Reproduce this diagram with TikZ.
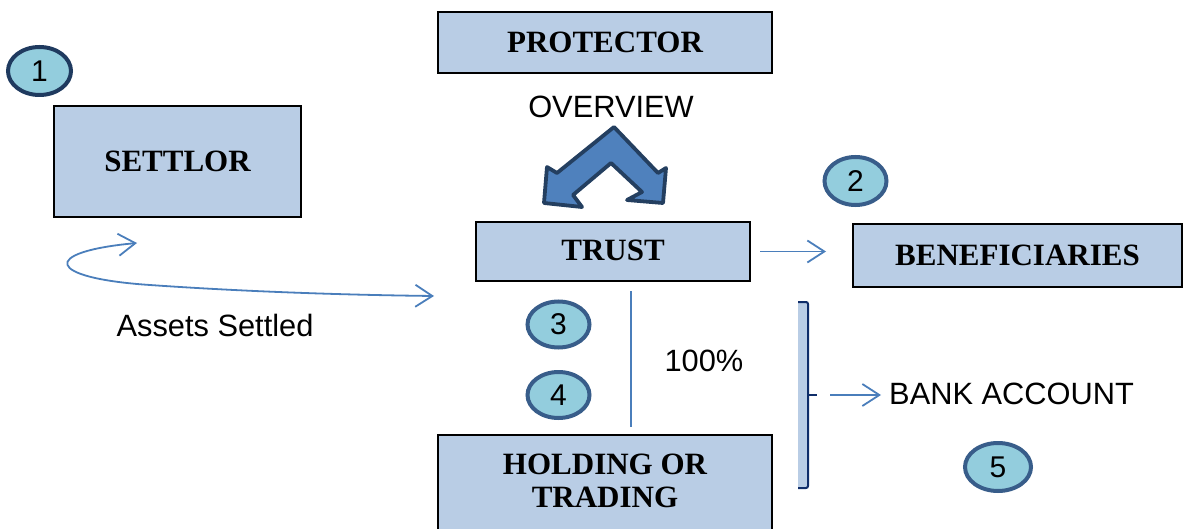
\documentclass[tikz,border=0pt]{standalone}
\usepackage{fontspec}
\setmainfont{Liberation Serif}
\newfontfamily\arialf{Liberation Sans}
\usetikzlibrary{arrows.meta,shapes.geometric}
\definecolor{boxfill}{HTML}{B9CDE5}
\definecolor{linkblue}{HTML}{4A7EBB}
\definecolor{chevfill}{HTML}{4F81BD}
\definecolor{chevline}{HTML}{243F60}
\definecolor{ovalfill}{HTML}{93CDDD}
\definecolor{ovalline}{HTML}{385D8A}
\definecolor{ovaldark}{HTML}{1F3A5F}
\definecolor{brackline}{HTML}{0F2D69}
\begin{document}
\begin{tikzpicture}[x=1pt,y=-1pt,
  box/.style={draw=black, line width=2pt, fill=boxfill, inner sep=0pt, align=center, font=\bfseries\fontsize{31}{33}\selectfont},
  oval/.style={ellipse, draw=ovalline, line width=4pt, fill=ovalfill, minimum width=62pt, minimum height=46pt, inner sep=0pt, font=\arialf\fontsize{30}{32}\selectfont},
  lbl/.style={font=\arialf\fontsize{30.8}{32}\selectfont, inner sep=0pt},
  conn/.style={draw=linkblue, line width=1.8pt},
  barb/.style={-{Straight Barb[length=17pt,width=22pt,line width=1.8pt]}},
  barbs/.style={{Straight Barb[length=17pt,width=22pt,line width=1.8pt]}-{Straight Barb[length=17pt,width=22pt,line width=1.8pt]}},
]
\useasboundingbox (0,0) rectangle (1185,529);
\clip (0,0) rectangle (1185,529);

% boxes
\node[box, minimum width=334pt, minimum height=61pt] (prot) at (605,42.5) {PROTECTOR};
\node[box, minimum width=247pt, minimum height=111pt] (settlor) at (177.5,161.5) {SETTLOR};
\node[box, minimum width=274pt, minimum height=59pt] (trust) at (613,251.5) {\raisebox{3pt}{TRUST}};
\node[box, minimum width=329pt, minimum height=63pt] (benef) at (1017.5,255.5) {BENEFICIARIES};
\node[box, minimum width=334pt, minimum height=110pt, anchor=north] (hold) at (605,434) {};
\node[font=\bfseries\fontsize{31}{33}\selectfont, align=center, inner sep=0pt] (holdtext) at (605,481) {HOLDING OR\\TRADING};

% numbered ovals
\node[oval, draw=ovaldark, minimum width=63pt, minimum height=48pt] (n1) at (39.5,71) {1};
\node[oval, minimum height=48pt] (n2) at (855.5,181) {2};
\node[oval] (n3) at (558.5,324.5) {3};
\node[oval] (n4) at (558.5,395) {4};
\node[oval, minimum width=66pt, minimum height=48pt] (n5) at (998,467) {5};

% labels
\node[lbl] (overview) at (611,107) {OVERVIEW};
\node[lbl] (assets) at (215,325) {Assets Settled};
\node[lbl] (pct) at (704,361) {100\%};
\node[lbl, anchor=west] (bank) at (889,394) {BANK ACCOUNT};

% double chevron arrow
\draw[draw=chevline, fill=chevfill, line width=3.8pt, line join=round]
  (614,127) -- (658,173) -- (666,168) -- (663,203) -- (627,200) -- (642,192)
  -- (611,163) -- (573,195) -- (582,207) -- (544,203) -- (547,167) -- (557,173) -- cycle;

% assets settled curve
\coordinate (cs) at (137,243);
\coordinate (ce) at (434,296);
\draw[conn, barbs] (cs) .. controls (40,252) and (45,278) .. (150,285)
  .. controls (250,292) and (350,295) .. (ce);

% trust -> beneficiaries
\draw[conn, barb, shorten <=9pt, shorten >=26pt] (trust.east) -- (trust.east -| benef.west);

% trust - holding
\draw[conn] ([xshift=18pt,yshift=-9pt]trust.south) -- ([xshift=26pt,yshift=7pt]hold.north);

% bracket
\draw[draw=brackline, fill=boxfill, line width=2pt, rounded corners=2pt]
  (798,302) -- (808,302) -- (808,488) -- (798,488);
\coordinate (brk) at (817,395);
\draw[draw=brackline, line width=2pt] (808,395) -- (brk);
\draw[conn, barb, shorten <=13pt, shorten >=8pt] (brk) -- (brk -| bank.west);
\end{tikzpicture}
\end{document}
